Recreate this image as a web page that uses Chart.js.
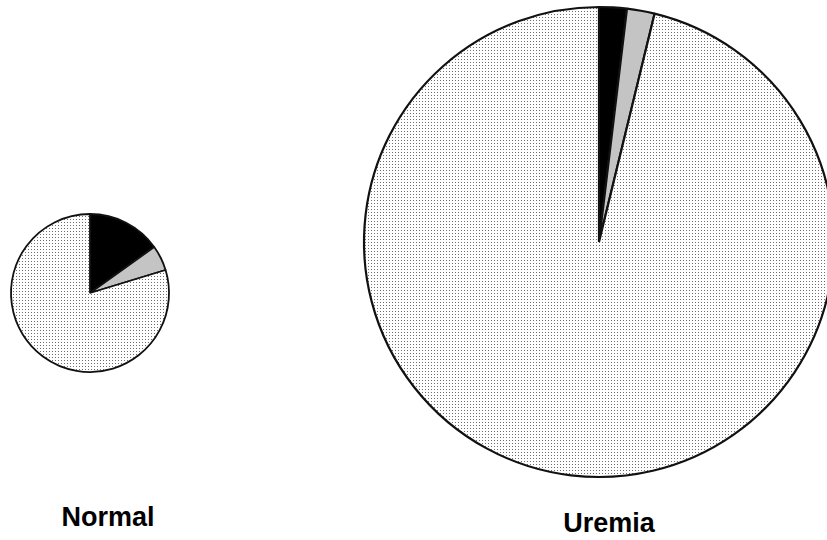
<!DOCTYPE html>
<html>
<head>
<meta charset="utf-8">
<script src="https://cdn.jsdelivr.net/npm/chart.js@4/dist/chart.umd.min.js"></script>
<style>
  html, body { margin: 0; padding: 0; background: #fff; width: 827px; height: 540px; overflow: hidden; position: relative; }
  canvas { position: absolute; }
  .lbl { position: absolute; font-family: "Liberation Sans", Arial, sans-serif; font-weight: bold; font-size: 27px; color: #000; transform: translateX(-50%); white-space: nowrap; }
</style>
</head>
<body>
<canvas id="cNormal" width="180" height="180" style="left:0px; top:203px;"></canvas>
<canvas id="cUremia" width="500" height="500" style="left:349px; top:-8px;"></canvas>
<div class="lbl" style="left:108px; top:502px;">Normal</div>
<div class="lbl" style="left:609px; top:508px;">Uremia</div>
<script>
const categories = ["Component A", "Component B", "Other"];
const normalValues = [15.1, 5.2, 79.7];
const uremiaValues = [1.9, 1.9, 96.2];
const groupLabels = ["Normal", "Uremia"];

function makeDots() {
  const t = document.createElement('canvas');
  t.width = 3; t.height = 3;
  const c = t.getContext('2d');
  c.fillStyle = '#ffffff';
  c.fillRect(0, 0, 3, 3);
  c.fillStyle = '#6e6e6e';
  c.fillRect(1, 1, 1, 1);
  return c.createPattern(t, 'repeat');
}

function makePie(id, values, radius, bw) {
  const ctx = document.getElementById(id).getContext('2d');
  const dots = makeDots();
  return new Chart(ctx, {
    type: 'pie',
    data: {
      labels: categories,
      datasets: [{
        data: values,
        backgroundColor: ['#000000', '#c4c4c4', dots],
        borderColor: '#111111',
        borderWidth: bw,
        borderAlign: 'center'
      }]
    },
    options: {
      responsive: false,
      animation: false,
      radius: radius,
      layout: { padding: 0 },
      plugins: { legend: { display: false }, tooltip: { enabled: false }, title: { display: false } }
    }
  });
}

makePie('cNormal', normalValues, 79, 1.8);
makePie('cUremia', uremiaValues, 235, 2.2);
</script>
</body>
</html>
